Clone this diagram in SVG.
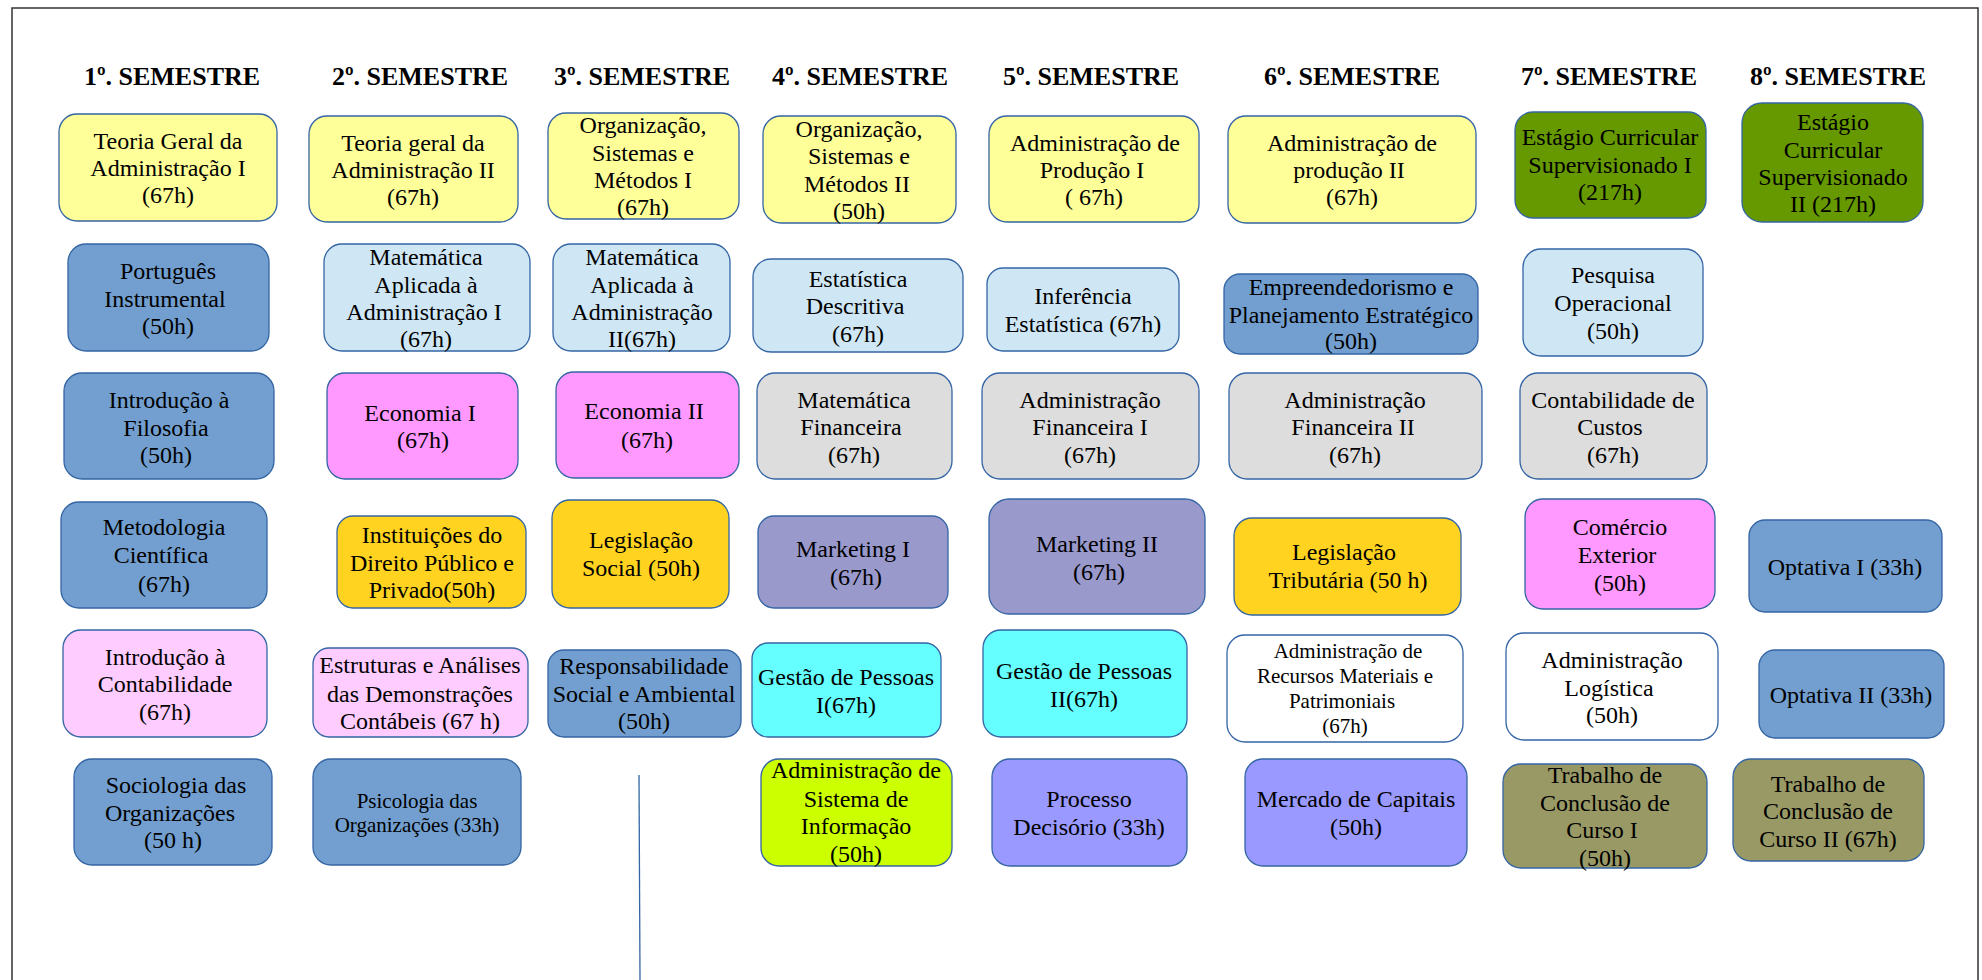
<svg xmlns="http://www.w3.org/2000/svg" width="1982" height="980" viewBox="0 0 1982 980">
<style>
.bg{fill:#ffffff}
.frame{fill:none;stroke:#333333;stroke-width:1.5}
.hd{font-family:"Liberation Serif","Times New Roman",serif;font-weight:bold;font-size:26px;fill:#000;text-anchor:middle}
.b{stroke:#3465a4;stroke-width:1.3}
.t{font-family:"Liberation Serif","Times New Roman",serif;fill:#000;text-anchor:middle}
.s22{font-size:22px}.s24{font-size:24px}.s21{font-size:21px}.s20{font-size:20px}
.yellow{fill:#ffff99}.blue{fill:#729fcf}.lblue{fill:#cfe7f5}.mag{fill:#ff99ff}.lpink{fill:#ffccff}
.gold{fill:#ffd320}.gray{fill:#dddddd}.lav{fill:#9999cc}.cyan{fill:#66ffff}.lime{fill:#ccff00}
.peri{fill:#9999ff}.green{fill:#669900}.olive{fill:#999966}.white{fill:#ffffff}
.conn{stroke:#3465a4;stroke-width:1.3;fill:none}
</style>
<rect class="bg" x="0" y="0" width="1982" height="980"/>
<rect class="frame" x="12" y="8" width="1966" height="1000"/>
<g id="headers">
<text class="hd" x="172" y="85">1º. SEMESTRE</text>
<text class="hd" x="420" y="85">2º. SEMESTRE</text>
<text class="hd" x="642" y="85">3º. SEMESTRE</text>
<text class="hd" x="860" y="85">4º. SEMESTRE</text>
<text class="hd" x="1091" y="85">5º. SEMESTRE</text>
<text class="hd" x="1352" y="85">6º. SEMESTRE</text>
<text class="hd" x="1609" y="85">7º. SEMESTRE</text>
<text class="hd" x="1838" y="85">8º. SEMESTRE</text>
</g>
<g id="connectors">
<line class="conn" x1="639" y1="775" x2="640" y2="980"/>
</g>
<g id="n1"><rect class="b yellow" x="59" y="114" width="218" height="107" rx="18"/><text class="t s24"><tspan x="168" y="149">Teoria Geral da</tspan><tspan x="168" y="176">Administração I</tspan><tspan x="168" y="203">(67h)</tspan></text></g>
<g id="n2"><rect class="b blue" x="68" y="244" width="201" height="107" rx="18"/><text class="t s24"><tspan x="168" y="279">Português</tspan><tspan x="165" y="307">Instrumental</tspan><tspan x="168" y="334">(50h)</tspan></text></g>
<g id="n3"><rect class="b blue" x="64" y="373" width="210" height="106" rx="18"/><text class="t s24"><tspan x="169" y="408">Introdução à</tspan><tspan x="166" y="436">Filosofia</tspan><tspan x="166" y="463">(50h)</tspan></text></g>
<g id="n4"><rect class="b blue" x="61" y="502" width="206" height="106" rx="18"/><text class="t s24"><tspan x="164" y="535">Metodologia</tspan><tspan x="161" y="563">Científica</tspan><tspan x="164" y="592">(67h)</tspan></text></g>
<g id="n5"><rect class="b lpink" x="63" y="630" width="204" height="107" rx="18"/><text class="t s24"><tspan x="165" y="665">Introdução à</tspan><tspan x="165" y="692">Contabilidade</tspan><tspan x="165" y="720">(67h)</tspan></text></g>
<g id="n6"><rect class="b blue" x="74" y="759" width="198" height="106" rx="18"/><text class="t s24"><tspan x="176" y="793">Sociologia das</tspan><tspan x="170" y="821">Organizações</tspan><tspan x="173" y="848">(50 h)</tspan></text></g>
<g id="n7"><rect class="b yellow" x="309" y="116" width="209" height="106" rx="18"/><text class="t s24"><tspan x="413" y="151">Teoria geral da</tspan><tspan x="413" y="178">Administração II</tspan><tspan x="413" y="205">(67h)</tspan></text></g>
<g id="n8"><rect class="b lblue" x="324" y="244" width="206" height="107" rx="18"/><text class="t s24"><tspan x="426" y="265">Matemática</tspan><tspan x="426" y="293">Aplicada à</tspan><tspan x="424" y="320">Administração I</tspan><tspan x="426" y="347">(67h)</tspan></text></g>
<g id="n9"><rect class="b mag" x="327" y="373" width="191" height="106" rx="18"/><text class="t s24"><tspan x="420" y="421">Economia I</tspan><tspan x="423" y="448">(67h)</tspan></text></g>
<g id="n10"><rect class="b gold" x="337" y="516" width="189" height="92" rx="16"/><text class="t s24"><tspan x="432" y="543">Instituições do</tspan><tspan x="432" y="571">Direito Público e</tspan><tspan x="432" y="598">Privado(50h)</tspan></text></g>
<g id="n11"><rect class="b lpink" x="313" y="648" width="215" height="89" rx="16"/><text class="t s24"><tspan x="420" y="673">Estruturas e Análises</tspan><tspan x="420" y="702">das Demonstrações</tspan><tspan x="420" y="729">Contábeis (67 h)</tspan></text></g>
<g id="n12"><rect class="b blue" x="313" y="759" width="208" height="106" rx="18"/><text class="t s21"><tspan x="417" y="808">Psicologia das</tspan><tspan x="417" y="832">Organizações (33h)</tspan></text></g>
<g id="n13"><rect class="b yellow" x="548" y="113" width="191" height="106" rx="18"/><text class="t s24"><tspan x="643" y="133">Organização,</tspan><tspan x="643" y="161">Sistemas e</tspan><tspan x="643" y="188">Métodos I</tspan><tspan x="643" y="215">(67h)</tspan></text></g>
<g id="n14"><rect class="b lblue" x="553" y="244" width="177" height="107" rx="18"/><text class="t s24"><tspan x="642" y="265">Matemática</tspan><tspan x="642" y="293">Aplicada à</tspan><tspan x="642" y="320">Administração</tspan><tspan x="642" y="347">II(67h)</tspan></text></g>
<g id="n15"><rect class="b mag" x="556" y="372" width="183" height="106" rx="18"/><text class="t s24"><tspan x="644" y="419">Economia II</tspan><tspan x="647" y="448">(67h)</tspan></text></g>
<g id="n16"><rect class="b gold" x="552" y="500" width="177" height="108" rx="18"/><text class="t s24"><tspan x="641" y="548">Legislação</tspan><tspan x="641" y="576">Social (50h)</tspan></text></g>
<g id="n17"><rect class="b blue" x="548" y="650" width="193" height="87" rx="16"/><text class="t s24"><tspan x="644" y="674">Responsabilidade</tspan><tspan x="644" y="702">Social e Ambiental</tspan><tspan x="644" y="729">(50h)</tspan></text></g>
<g id="n18"><rect class="b yellow" x="763" y="116" width="193" height="107" rx="18"/><text class="t s24"><tspan x="859" y="137">Organização,</tspan><tspan x="859" y="164">Sistemas e</tspan><tspan x="857" y="192">Métodos II</tspan><tspan x="859" y="219">(50h)</tspan></text></g>
<g id="n19"><rect class="b lblue" x="753" y="259" width="210" height="93" rx="18"/><text class="t s24"><tspan x="858" y="287">Estatística</tspan><tspan x="855" y="314">Descritiva</tspan><tspan x="858" y="342">(67h)</tspan></text></g>
<g id="n20"><rect class="b gray" x="757" y="373" width="195" height="106" rx="18"/><text class="t s24"><tspan x="854" y="408">Matemática</tspan><tspan x="851" y="435">Financeira</tspan><tspan x="854" y="463">(67h)</tspan></text></g>
<g id="n21"><rect class="b lav" x="758" y="516" width="190" height="92" rx="16"/><text class="t s24"><tspan x="853" y="557">Marketing I</tspan><tspan x="856" y="585">(67h)</tspan></text></g>
<g id="n22"><rect class="b cyan" x="752" y="643" width="189" height="94" rx="16"/><text class="t s24"><tspan x="846" y="685">Gestão de Pessoas</tspan><tspan x="846" y="713">I(67h)</tspan></text></g>
<g id="n23"><rect class="b lime" x="761" y="759" width="191" height="107" rx="18"/><text class="t s24"><tspan x="856" y="778">Administração de</tspan><tspan x="856" y="807">Sistema de</tspan><tspan x="856" y="834">Informação</tspan><tspan x="856" y="862">(50h)</tspan></text></g>
<g id="n24"><rect class="b yellow" x="989" y="116" width="210" height="106" rx="18"/><text class="t s24"><tspan x="1095" y="151">Administração de</tspan><tspan x="1092" y="178">Produção I</tspan><tspan x="1094" y="205">( 67h)</tspan></text></g>
<g id="n25"><rect class="b lblue" x="987" y="268" width="192" height="83" rx="16"/><text class="t s24"><tspan x="1083" y="304">Inferência</tspan><tspan x="1083" y="332">Estatística (67h)</tspan></text></g>
<g id="n26"><rect class="b gray" x="982" y="373" width="217" height="106" rx="18"/><text class="t s24"><tspan x="1090" y="408">Administração</tspan><tspan x="1090" y="435">Financeira I</tspan><tspan x="1090" y="463">(67h)</tspan></text></g>
<g id="n27"><rect class="b lav" x="989" y="499" width="216" height="115" rx="20"/><text class="t s24"><tspan x="1097" y="552">Marketing II</tspan><tspan x="1099" y="580">(67h)</tspan></text></g>
<g id="n28"><rect class="b cyan" x="983" y="630" width="204" height="107" rx="18"/><text class="t s24"><tspan x="1084" y="679">Gestão de Pessoas</tspan><tspan x="1084" y="707">II(67h)</tspan></text></g>
<g id="n29"><rect class="b peri" x="992" y="759" width="195" height="107" rx="18"/><text class="t s24"><tspan x="1089" y="807">Processo</tspan><tspan x="1089" y="835">Decisório (33h)</tspan></text></g>
<g id="n30"><rect class="b yellow" x="1228" y="116" width="248" height="107" rx="18"/><text class="t s24"><tspan x="1352" y="151">Administração de</tspan><tspan x="1349" y="178">produção II</tspan><tspan x="1352" y="205">(67h)</tspan></text></g>
<g id="n31"><rect class="b blue" x="1224" y="274" width="254" height="80" rx="16"/><text class="t s24"><tspan x="1351" y="295">Empreendedorismo e</tspan><tspan x="1351" y="323">Planejamento Estratégico</tspan><tspan x="1351" y="349">(50h)</tspan></text></g>
<g id="n32"><rect class="b gray" x="1229" y="373" width="253" height="106" rx="18"/><text class="t s24"><tspan x="1355" y="408">Administração</tspan><tspan x="1353" y="435">Financeira II</tspan><tspan x="1355" y="463">(67h)</tspan></text></g>
<g id="n33"><rect class="b gold" x="1234" y="518" width="227" height="97" rx="18"/><text class="t s24"><tspan x="1344" y="560">Legislação</tspan><tspan x="1348" y="588">Tributária (50 h)</tspan></text></g>
<g id="n34"><rect class="b white" x="1227" y="635" width="236" height="107" rx="18"/><text class="t s21"><tspan x="1348" y="658">Administração de</tspan><tspan x="1345" y="683">Recursos Materiais e</tspan><tspan x="1342" y="708">Patrimoniais</tspan><tspan x="1345" y="733">(67h)</tspan></text></g>
<g id="n35"><rect class="b peri" x="1245" y="759" width="222" height="107" rx="18"/><text class="t s24"><tspan x="1356" y="807">Mercado de Capitais</tspan><tspan x="1356" y="835">(50h)</tspan></text></g>
<g id="n36"><rect class="b green" x="1515" y="112" width="191" height="106" rx="18"/><text class="t s24"><tspan x="1610" y="145">Estágio Curricular</tspan><tspan x="1610" y="173">Supervisionado I</tspan><tspan x="1610" y="200">(217h)</tspan></text></g>
<g id="n37"><rect class="b lblue" x="1523" y="249" width="180" height="107" rx="18"/><text class="t s24"><tspan x="1613" y="283">Pesquisa</tspan><tspan x="1613" y="311">Operacional</tspan><tspan x="1613" y="339">(50h)</tspan></text></g>
<g id="n38"><rect class="b gray" x="1520" y="373" width="187" height="106" rx="18"/><text class="t s24"><tspan x="1613" y="408">Contabilidade de</tspan><tspan x="1610" y="435">Custos</tspan><tspan x="1613" y="463">(67h)</tspan></text></g>
<g id="n39"><rect class="b mag" x="1525" y="499" width="190" height="110" rx="18"/><text class="t s24"><tspan x="1620" y="535">Comércio</tspan><tspan x="1617" y="563">Exterior</tspan><tspan x="1620" y="591">(50h)</tspan></text></g>
<g id="n40"><rect class="b white" x="1506" y="633" width="212" height="107" rx="18"/><text class="t s24"><tspan x="1612" y="668">Administração</tspan><tspan x="1609" y="696">Logística</tspan><tspan x="1612" y="723">(50h)</tspan></text></g>
<g id="n41"><rect class="b olive" x="1503" y="764" width="204" height="104" rx="18"/><text class="t s24"><tspan x="1605" y="783">Trabalho de</tspan><tspan x="1605" y="811">Conclusão de</tspan><tspan x="1602" y="838">Curso I</tspan><tspan x="1605" y="866">(50h)</tspan></text></g>
<g id="n42"><rect class="b green" x="1742" y="103" width="181" height="119" rx="20"/><text class="t s24"><tspan x="1833" y="130">Estágio</tspan><tspan x="1833" y="158">Curricular</tspan><tspan x="1833" y="185">Supervisionado</tspan><tspan x="1833" y="212">II (217h)</tspan></text></g>
<g id="n43"><rect class="b blue" x="1749" y="520" width="193" height="92" rx="16"/><text class="t s24"><tspan x="1845" y="575">Optativa I (33h)</tspan></text></g>
<g id="n44"><rect class="b blue" x="1759" y="650" width="185" height="88" rx="16"/><text class="t s24"><tspan x="1851" y="703">Optativa II (33h)</tspan></text></g>
<g id="n45"><rect class="b olive" x="1733" y="759" width="191" height="102" rx="18"/><text class="t s24"><tspan x="1828" y="792">Trabalho de</tspan><tspan x="1828" y="819">Conclusão de</tspan><tspan x="1828" y="847">Curso II (67h)</tspan></text></g>
</svg>
